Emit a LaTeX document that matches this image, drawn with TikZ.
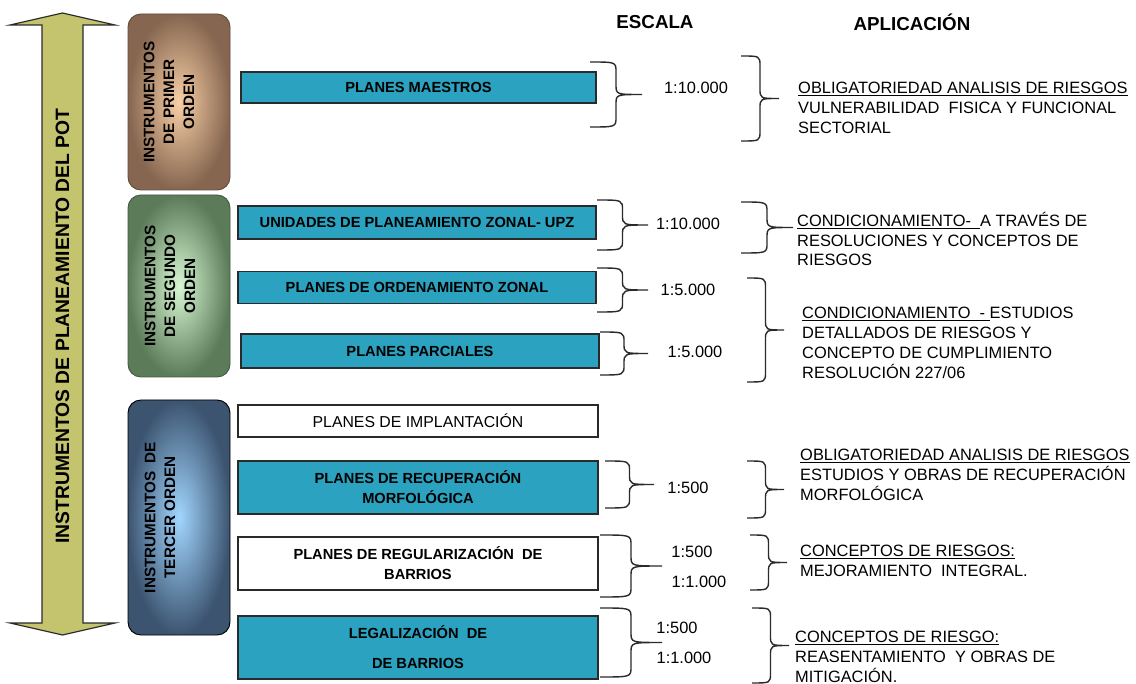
\documentclass[tikz,border=0pt]{standalone}
\usepackage{fontspec}
\setmainfont{Liberation Sans}
\usepackage{tikz}
\usetikzlibrary{positioning}
\definecolor{potTeal}{HTML}{2BA2BF}
\definecolor{potLine}{HTML}{2A2A2A}
\definecolor{potOlive}{HTML}{C4C46E}
\definecolor{potYellow}{HTML}{FFFF9E}
\definecolor{primOut}{HTML}{866650}
\definecolor{primIn}{HTML}{F8CFA6}
\definecolor{segOut}{HTML}{5B7B59}
\definecolor{segIn}{HTML}{D8F7D2}
\definecolor{terOut}{HTML}{3C5470}
\definecolor{terIn}{HTML}{A2D6FF}
\newcommand{\pxl}{0.03cm}
% right curly brace: left x, top y, bottom y, tip x
\newcommand{\brc}[4]{%
  \pgfmathsetmacro\bv{(#1+#4)/2}%
  \pgfmathsetmacro\bm{(#2+#3)/2}%
  \draw[brcline] (#1,#2) .. controls (\bv,#2) .. (\bv,#2+10)
    -- (\bv,\bm-10) .. controls (\bv,\bm) .. (#4,\bm)
    .. controls (\bv,\bm) .. (\bv,\bm+10)
    -- (\bv,#3-10) .. controls (\bv,#3) .. (#1,#3);
}
\tikzset{
  plan/.style={
    draw=potLine,
    fill=potTeal,
    line width=1pt,
    align=center,
    inner sep=0pt,
    font=\bfseries\fontsize{12.5}{17}\selectfont
  },
  planw/.style={plan, fill=white},
  orden/.style={
    draw=#1Out!75!black,
    rounded corners=11pt,
    inner color=#1In,
    outer color=#1Out,
    line width=0.8pt
  },
  ordtxt/.style={rotate=90, align=center, font=\bfseries\fontsize{13}{17}\selectfont},
  esc/.style={font=\fontsize{14}{17}\selectfont},
  aplic/.style={anchor=west, align=left, inner sep=0pt, font=\fontsize{14}{17}\selectfont},
  hdr/.style={font=\bfseries\fontsize{16}{19}\selectfont},
  brcline/.style={draw=potLine, line width=1.2pt}
}

\begin{document}
\begin{tikzpicture}[x=\pxl, y=-\pxl]
  \useasboundingbox (0,0) rectangle (1136,684);
  \fill[white] (0,0) rectangle (1136,684);

  % big double arrow
  \shade[draw=potLine, line width=1pt, top color=potOlive, middle color=potYellow, bottom color=potOlive]
    (62.5,13) -- (115,25) -- (83,25) -- (83,623) -- (115,623) -- (62.5,635)
    -- (10,623) -- (42,623) -- (42,25) -- (10,25) -- cycle;
  \node[rotate=90, font=\bfseries\fontsize{16.5}{20}\selectfont] (pot) at (62.5,326) {INSTRUMENTOS DE PLANEAMIENTO DEL POT};

  % order boxes
  \node[orden=prim, minimum width=102*\pxl, minimum height=176*\pxl] (primer) at (179,102) {};
  \node[orden=seg, minimum width=102*\pxl, minimum height=182*\pxl] (segundo) at (179,286) {};
  \node[orden=ter, draw=black, minimum width=102*\pxl, minimum height=235*\pxl] (tercer) at (179,517.5) {};
  \node[ordtxt] (primertxt) at (169,102) {INSTRUMENTOS\\DE PRIMER\\ORDEN};
  \node[ordtxt] (segundotxt) at (170,286) {INSTRUMENTOS\\DE SEGUNDO\\ORDEN};
  \node[ordtxt] (tercertxt) at (160,517.5) {INSTRUMENTOS\ \ DE\\TERCER ORDEN};

  % plans
  \node[plan, minimum width=355*\pxl, minimum height=31*\pxl] (maestros) at (418.5,87.5) {PLANES MAESTROS};
  \node[plan, minimum width=358*\pxl, minimum height=33*\pxl] (upz) at (417,222.5) {UNIDADES DE PLANEAMIENTO ZONAL- UPZ};
  \node[plan, minimum width=358*\pxl, minimum height=32*\pxl] (zonal) at (417,287.5) {PLANES DE ORDENAMIENTO ZONAL};
  \node[plan, minimum width=358*\pxl, minimum height=34*\pxl] (parciales) at (420,351) {PLANES PARCIALES};
  \node[planw, font=\fontsize{13.5}{17}\selectfont, minimum width=360*\pxl, minimum height=32*\pxl] (implant) at (418,421) {PLANES DE IMPLANTACIÓN};
  \node[plan, minimum width=360*\pxl, minimum height=53*\pxl] (morfo) at (418,487.5) {PLANES DE RECUPERACIÓN\\MORFOLÓGICA};
  \node[planw, minimum width=360*\pxl, minimum height=53*\pxl] (regul) at (418,563.5) {PLANES DE REGULARIZACIÓN\ \ DE\\BARRIOS};
  \node[plan, minimum width=360*\pxl, minimum height=63*\pxl] (legal) at (418,647.5) {LEGALIZACIÓN\ \ DE\\[8.5pt]DE BARRIOS};

  % headers
  \node[hdr] (escala) at (655,22) {ESCALA};
  \node[hdr] (aplicacion) at (912,22) {APLICACIÓN};

  % scales
  \node[esc] (e1) at (696,88) {1:10.000};
  \node[esc] (e2) at (688,224) {1:10.000};
  \node[esc] (e3) at (688,290) {1:5.000};
  \node[esc] (e4) at (695,352) {1:5.000};
  \node[esc] (e5) at (688,488) {1:500};
  \node[esc] (e6a) at (692,552) {1:500};
  \node[esc] (e6b) at (699,582) {1:1.000};
  \node[esc] (e7a) at (677,628) {1:500};
  \node[esc] (e7b) at (684,658) {1:1.000};

  % applications
  \node[aplic] (a1) at (798,108) {\underline{OBLIGATORIEDAD ANALISIS DE RIESGOS}\\VULNERABILIDAD\ \ FISICA Y FUNCIONAL\\SECTORIAL};
  \node[aplic] (a2) at (797,239) {\underline{CONDICIONAMIENTO-\ \ }A TRAVÉS DE\\RESOLUCIONES Y CONCEPTOS DE\\RIESGOS};
  \node[aplic] (a3) at (802,343) {\underline{CONDICIONAMIENTO\ \ -\ }ESTUDIOS\\DETALLADOS DE RIESGOS Y\\CONCEPTO DE CUMPLIMIENTO\\RESOLUCIÓN 227/06};
  \node[aplic] (a4) at (800,475) {\underline{OBLIGATORIEDAD ANALISIS DE RIESGOS}\\ESTUDIOS Y OBRAS DE RECUPERACIÓN\\MORFOLÓGICA};
  \node[aplic] (a5) at (800,561) {\underline{CONCEPTOS DE RIESGOS:}\\MEJORAMIENTO\ \ INTEGRAL.};
  \node[aplic] (a6) at (795,657) {\underline{CONCEPTOS DE RIESGO:}\\REASENTAMIENTO\ \ Y OBRAS DE\\MITIGACIÓN.};

  % braces
  \brc{590}{62}{127}{642}
  \brc{741}{56}{141}{779}
  \brc{597}{200}{250}{648}
  \brc{741}{202}{253}{793}
  \brc{597}{268}{312}{648}
  \brc{600}{332}{375}{648}
  \brc{747}{278}{382}{784}
  \brc{605}{461}{508}{654}
  \brc{747}{461}{518}{784}
  \brc{600}{535}{597}{662}
  \brc{750}{535}{590}{787}
  \brc{600}{608}{677}{662}
  \brc{752}{608}{683}{789}
\end{tikzpicture}
\end{document}
